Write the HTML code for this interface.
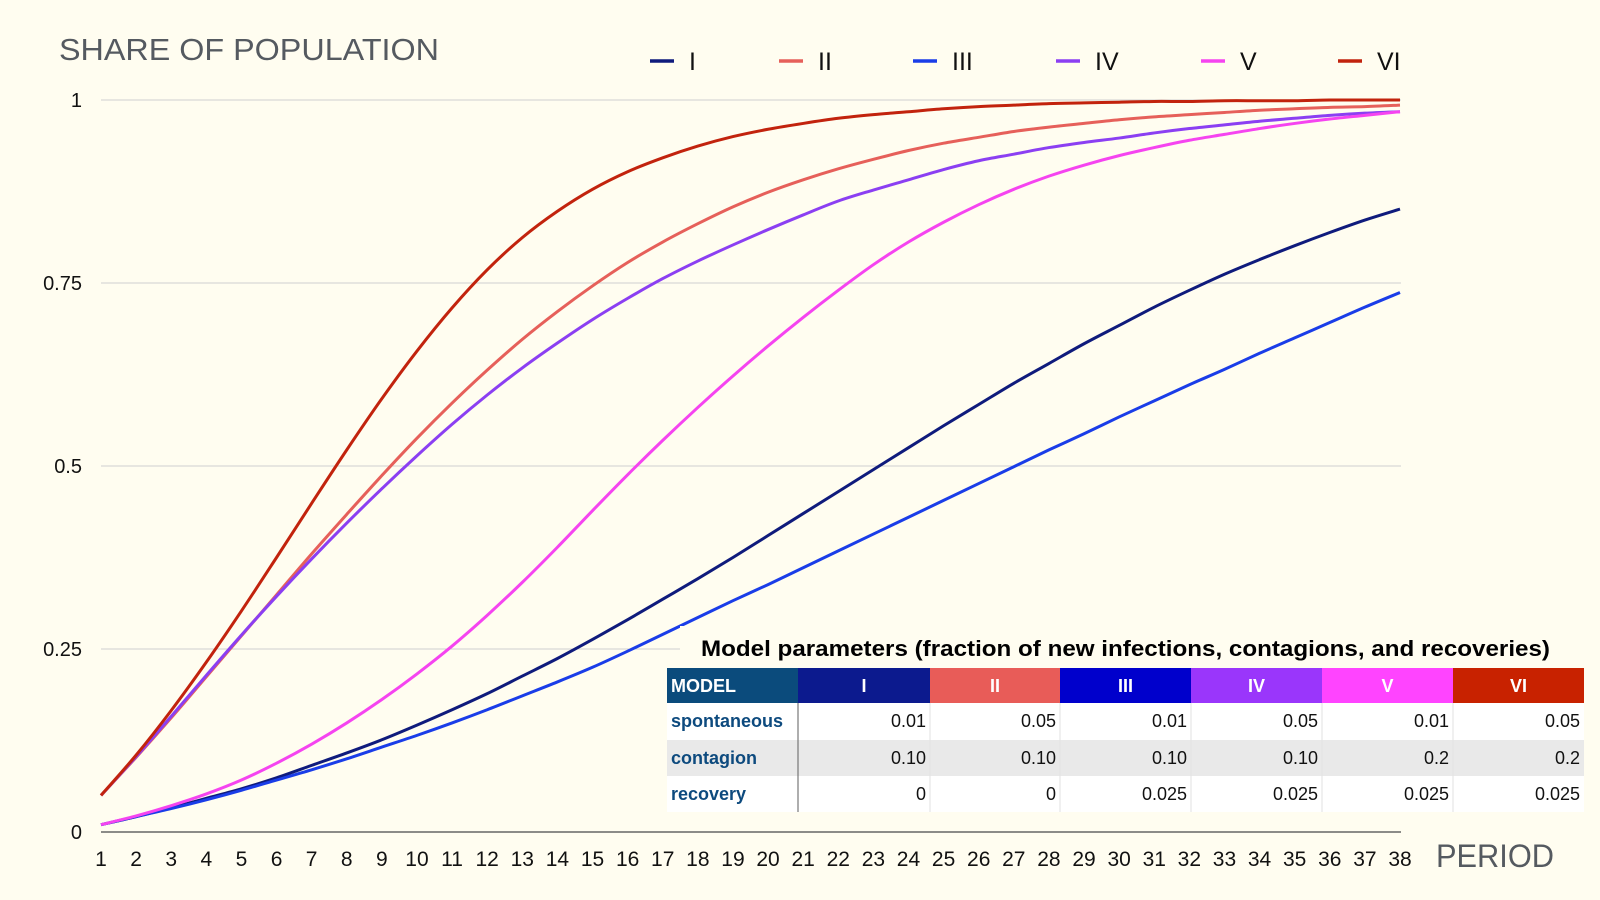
<!DOCTYPE html>
<html><head><meta charset="utf-8"><style>
html,body{margin:0;padding:0;background:#fffdf0;}
svg{display:block;font-family:"Liberation Sans",sans-serif;}
</style></head><body>
<svg id="chart" width="1600" height="900" viewBox="0 0 1600 900">
<rect x="0" y="0" width="1600" height="900" fill="#fffdf0"/>
<text x="59" y="60" font-size="31" fill="#555a60" textLength="380" lengthAdjust="spacingAndGlyphs">SHARE OF POPULATION</text>
<text x="1436" y="867" font-size="32" fill="#555a60" textLength="118" lengthAdjust="spacingAndGlyphs">PERIOD</text>
<g id="grid"></g><g id="series"></g><g id="legend"></g><g id="xticks"></g><g id="yticks"></g><g id="table"></g>
</svg>
<script>
const periods = [];
for (let t = 1; t <= 38; t++) periods.push(t);
const seriesNames = ["I","II","III","IV","V","VI"];
const seriesColors = ["#0f1b7c","#e6605a","#1a3de8","#8b3ff2","#f544f0","#c2230d"];
const sI = [0.010,0.021,0.033,0.046,0.059,0.074,0.091,0.108,0.126,0.146,0.167,0.189,0.213,0.237,0.263,0.290,0.318,0.346,0.375,0.405,0.435,0.465,0.495,0.525,0.555,0.584,0.613,0.640,0.667,0.692,0.717,0.740,0.762,0.782,0.801,0.819,0.836,0.851];
const sII = [0.050,0.102,0.156,0.212,0.268,0.324,0.380,0.434,0.487,0.538,0.586,0.631,0.673,0.711,0.746,0.778,0.806,0.831,0.854,0.874,0.891,0.906,0.919,0.931,0.941,0.949,0.957,0.963,0.968,0.973,0.977,0.980,0.983,0.986,0.988,0.990,0.991,0.993];
const sIII = [0.010,0.021,0.032,0.044,0.057,0.071,0.085,0.100,0.116,0.132,0.149,0.167,0.186,0.205,0.225,0.247,0.270,0.293,0.316,0.338,0.361,0.384,0.407,0.430,0.453,0.476,0.499,0.522,0.544,0.567,0.589,0.611,0.632,0.654,0.675,0.696,0.717,0.737];
const sIV = [0.050,0.103,0.158,0.214,0.269,0.322,0.373,0.422,0.469,0.514,0.557,0.597,0.634,0.668,0.700,0.729,0.756,0.780,0.802,0.823,0.843,0.862,0.877,0.891,0.905,0.917,0.926,0.935,0.942,0.948,0.955,0.961,0.966,0.971,0.975,0.979,0.982,0.984];
const sV = [0.010,0.022,0.036,0.052,0.071,0.094,0.120,0.149,0.181,0.216,0.254,0.296,0.341,0.389,0.439,0.488,0.535,0.580,0.623,0.664,0.703,0.740,0.775,0.806,0.833,0.857,0.878,0.896,0.911,0.924,0.935,0.945,0.953,0.961,0.968,0.974,0.979,0.984];
const sVI = [0.050,0.105,0.166,0.232,0.302,0.375,0.449,0.522,0.592,0.657,0.716,0.768,0.812,0.848,0.878,0.902,0.921,0.937,0.950,0.960,0.968,0.975,0.980,0.984,0.988,0.991,0.993,0.995,0.996,0.997,0.998,0.998,0.999,0.999,0.999,1.000,1.000,1.000];
const yTickValues = [0,0.25,0.5,0.75,1];
const yTickLabels = ["0","0.25","0.5","0.75","1"];
const tableRows = ["spontaneous","contagion","recovery"];
const spontaneous = ["0.01","0.05","0.01","0.05","0.01","0.05"];
const contagion = ["0.10","0.10","0.10","0.10","0.2","0.2"];
const recovery = ["0","0","0.025","0.025","0.025","0.025"];

const NS = "http://www.w3.org/2000/svg";
const X0 = 101, X1 = 1400, Y0 = 832, Y1 = 100;
function xs(t){ return X0 + (t - 1) * (X1 - X0) / 37; }
function ys(v){ return Y0 - v * (Y0 - Y1); }
function mk(tag, attrs, parent){ const e = document.createElementNS(NS, tag); for (const k in attrs) e.setAttribute(k, attrs[k]); parent.appendChild(e); return e; }

const grid = document.getElementById('grid');
yTickValues.forEach((v, i) => {
  const xe = (v === 0.25) ? 680 : 1401;
  const ln = mk('line', {x1: X0, x2: v === 0 ? 1401 : xe, y1: ys(v), y2: ys(v), stroke: v === 0 ? '#666' : '#cfcfcf', 'stroke-width': v === 0 ? 1.5 : 1}, grid);
  
  
  const tx = mk('text', {x: 82, y: ys(v) + 7, 'font-size': 20, 'text-anchor': 'end', fill: '#111'}, document.getElementById('yticks'));
  tx.textContent = yTickLabels[i];
  
  
});
periods.forEach(t => {
  const tx = mk('text', {x: xs(t), y: 866, 'font-size': 21, 'text-anchor': 'middle', fill: '#111'}, document.getElementById('xticks'));
  tx.textContent = String(t);
  
  
});

const allSeries = [sI, sII, sIII, sIV, sV, sVI];
const sg = document.getElementById('series');
allSeries.forEach((arr, si) => {
  const pts = arr.map((v, i) => [xs(periods[i]), ys(v)]);
  let d = 'M' + pts[0][0] + ',' + pts[0][1];
  for (let i = 0; i < pts.length - 1; i++) {
    const p0 = pts[Math.max(0, i - 1)], p1 = pts[i], p2 = pts[i + 1], p3 = pts[Math.min(pts.length - 1, i + 2)];
    const c1x = p1[0] + (p2[0] - p0[0]) / 6, c1y = p1[1] + (p2[1] - p0[1]) / 6;
    const c2x = p2[0] - (p3[0] - p1[0]) / 6, c2y = p2[1] - (p3[1] - p1[1]) / 6;
    d += ' C' + c1x + ',' + c1y + ' ' + c2x + ',' + c2y + ' ' + p2[0] + ',' + p2[1];
  }
  const path = mk('path', {d: d, fill: 'none', stroke: seriesColors[si], 'stroke-width': 3, 'stroke-linejoin': 'round'}, sg);
  
  
});

const legendX = [650, 779, 913, 1056, 1201, 1338];
const lg = document.getElementById('legend');
seriesNames.forEach((n, i) => {
  const g = mk('g', {}, lg);
  
  
  mk('line', {x1: legendX[i], x2: legendX[i] + 24, y1: 61, y2: 61, stroke: seriesColors[i], 'stroke-width': 3.5}, g);
  const t = mk('text', {x: legendX[i] + 39, y: 70, 'font-size': 25, fill: '#111'}, g);
  t.textContent = n;
});

const tb = document.getElementById('table');
mk('rect', {x: 680, y: 626, width: 920, height: 42, fill: '#fffdf0'}, tb);
const tt = mk('text', {x: 701, y: 656, 'font-size': 22, 'font-weight': 'bold', fill: '#000', textLength: 849, lengthAdjust: 'spacingAndGlyphs'}, tb);
tt.textContent = 'Model parameters (fraction of new infections, contagions, and recoveries)';


const colX = [667, 798, 930, 1060, 1191, 1322, 1453, 1584];
const rowY = [668, 703, 740, 776, 812];
const headColors = ['#0b4b7c', '#0c1a8e', '#e85c58', '#0000cc', '#9a36fb', '#ff44ff', '#c82200'];
const headLabels = ['MODEL'].concat(seriesNames);
headLabels.forEach((h, c) => {
  mk('rect', {x: colX[c], y: rowY[0], width: colX[c + 1] - colX[c], height: rowY[1] - rowY[0], fill: headColors[c]}, tb);
  const t = mk('text', {x: c === 0 ? 671 : (colX[c] + colX[c + 1]) / 2, y: 692, 'font-size': 18, 'font-weight': 'bold', fill: '#fff', 'text-anchor': c === 0 ? 'start' : 'middle'}, tb);
  t.textContent = h;
  
  
});
const rowVals = [spontaneous, contagion, recovery];
tableRows.forEach((r, ri) => {
  const y = rowY[ri + 1], h = rowY[ri + 2] - y;
  mk('rect', {x: colX[0], y: y, width: colX[7] - colX[0], height: h, fill: ri === 1 ? '#e9e9e9' : '#ffffff'}, tb);
  const lt = mk('text', {x: 671, y: y + 24, 'font-size': 18, 'font-weight': 'bold', fill: '#0d4a7e'}, tb);
  lt.textContent = r;
  
  
  rowVals[ri].forEach((v, c) => {
    const t = mk('text', {x: colX[c + 2] - 4, y: y + 24, 'font-size': 18, fill: '#111', 'text-anchor': 'end'}, tb);
    t.textContent = v;
    
    
  });
});
for (let c = 2; c < 7; c++) mk('line', {x1: colX[c], x2: colX[c], y1: rowY[1], y2: rowY[4], stroke: '#e2e2e2', 'stroke-width': 1}, tb);
mk('line', {x1: colX[1], x2: colX[1], y1: rowY[1], y2: rowY[4], stroke: '#777', 'stroke-width': 1.2}, tb);
</script>
</body></html>
